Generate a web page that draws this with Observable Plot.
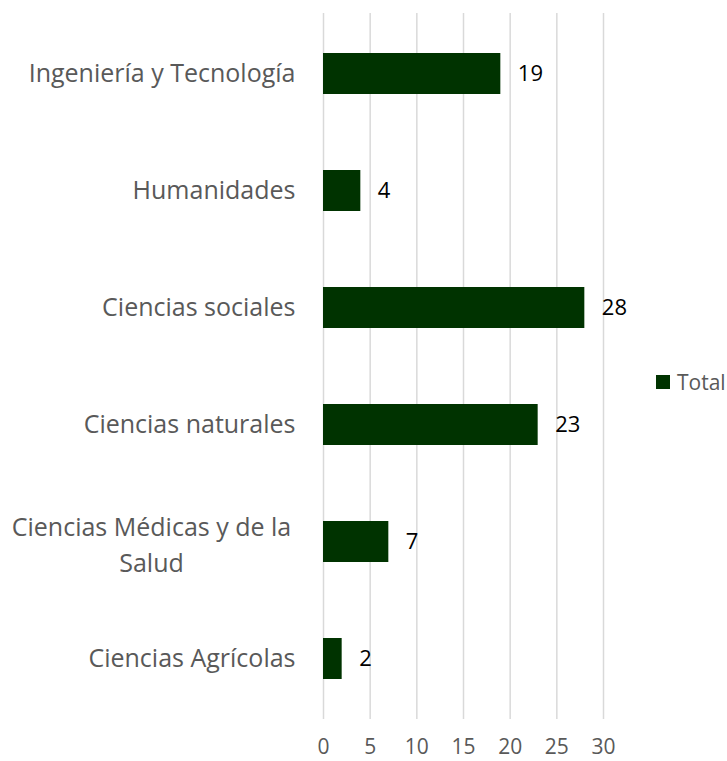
<!DOCTYPE html>
<html>
<head>
<meta charset="utf-8">
<script src="https://cdn.jsdelivr.net/npm/d3@7"></script>
<script src="https://cdn.jsdelivr.net/npm/@observablehq/plot@0.6"></script>
<style>
  html, body { margin: 0; padding: 0; background: #fff; }
  #wrap { position: relative; width: 727px; height: 761px; font-family: "Open Sans", sans-serif; }
  #legend { position: absolute; left: 656px; top: 368px; display: flex; align-items: center; gap: 7px; font-size: 21px; color: #595959; }
  #legend .sw { width: 14px; height: 14px; background: #003300; display: inline-block; }
</style>
</head>
<body>
<div id="wrap"><div id="legend"><span class="sw"></span><span id="legname"></span></div></div>
<script>
const categories = ["Ingeniería y Tecnología", "Humanidades", "Ciencias sociales", "Ciencias naturales", "Ciencias Médicas y de la Salud", "Ciencias Agrícolas"];
const labelLines = ["Ingeniería y Tecnología", "Humanidades", "Ciencias sociales", "Ciencias naturales", "Ciencias Médicas y de la\nSalud", "Ciencias Agrícolas"];
const values = [19, 4, 28, 23, 7, 2];
const xTicks = [0, 5, 10, 15, 20, 25, 30];
const seriesName = "Total";

const data = categories.map((c, i) => ({category: c, label: labelLines[i], value: values[i]}));
const single = data.filter(d => !d.label.includes("\n"));
const multi = data.filter(d => d.label.includes("\n"));

const chart = Plot.plot({
  width: 727,
  height: 761,
  marginLeft: 323,
  marginRight: 124,
  marginTop: 13,
  marginBottom: 42,
  style: {fontFamily: "'Open Sans', sans-serif", background: "transparent", overflow: "visible"},
  x: {domain: [0, 30], ticks: xTicks, label: null},
  y: {domain: categories, padding: 0, label: null},
  marks: [
    Plot.gridX(xTicks, {stroke: "#d9d9d9", strokeOpacity: 1, strokeWidth: 1.5}),
    Plot.barX(data, {x: "value", y: "category", fill: "#003300", insetTop: 38, insetBottom: 38}),
    Plot.text(data, {x: "value", y: "category", text: d => String(d.value), textAnchor: "start", dx: 17, fontSize: 22, fill: "#000"}),
    Plot.text(single, {x: 0, y: "category", text: "label", textAnchor: "end", dx: -28, fontSize: 25, fill: "#595959"}),
    Plot.text(multi, {x: 0, y: "category", text: "label", textAnchor: "middle", dx: -172, fontSize: 25, lineHeight: 1.44, fill: "#595959"}),
    Plot.axisX(xTicks, {tickSize: 0, tickPadding: 20, fontSize: 21, color: "#595959", label: null, tickFormat: d => String(d)}),
    Plot.axisY({ticks: [], label: null, tickSize: 0})
  ]
});
document.getElementById("wrap").prepend(chart);
document.getElementById("legname").textContent = seriesName;
</script>
</body>
</html>
